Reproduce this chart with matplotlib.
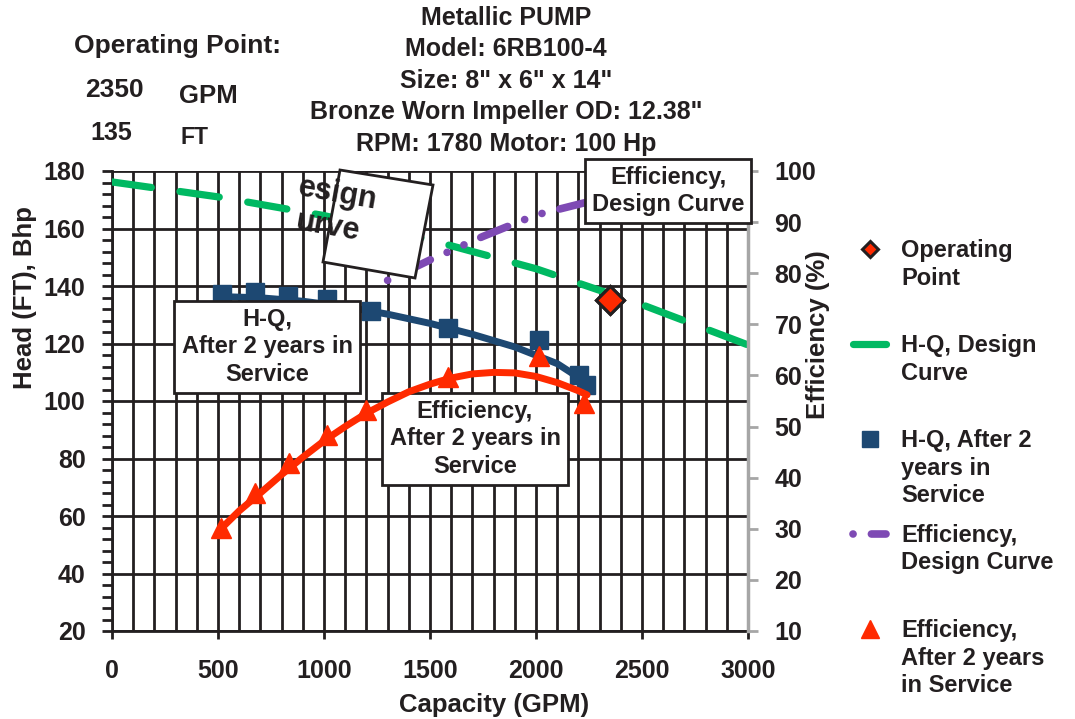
import numpy as np
import matplotlib
matplotlib.use("Agg")
import matplotlib.pyplot as plt
from matplotlib.patches import Polygon
from matplotlib.legend_handler import HandlerLine2D
from matplotlib.transforms import Affine2D

plt.rcParams['font.family'] = ['Liberation Sans', 'DejaVu Sans']
plt.rcParams['font.weight'] = 'bold'
plt.rcParams['axes.labelweight'] = 'bold'
TXT = '#231F20'

# ---------------- data ----------------
# H-Q design curve (Head, ft)
hq_design_q = [0, 500, 1000, 1500, 2000, 2500, 3000]
hq_design_h = [176.2, 171.0, 164.5, 156.0, 146.0, 133.5, 119.5]

# Efficiency design curve (%)
eff_design_q = [1300, 1500, 1750, 2000, 2250]
eff_design_e = [78.6, 82.6, 87.2, 91.4, 94.0]

# H-Q after 2 years in service (measured points, ft)
hq_2y_q = [519, 675, 830, 1014, 1222, 1585, 2014, 2203, 2236]
hq_2y_h = [137.2, 137.9, 136.5, 135.5, 131.3, 125.4, 121.2, 109.0, 105.6]
# trendline for H-Q after 2 years
hq_2y_fit_q = [519, 700, 900, 1100, 1300, 1500, 1700, 1900, 2100, 2236]
hq_2y_fit_h = [136.3, 135.9, 134.7, 132.8, 130.2, 127.0, 123.2, 118.8, 113.0, 106.5]

# Efficiency after 2 years in service (measured points, %)
eff_2y_q = [514, 675, 835, 1014, 1198, 1585, 2014, 2226]
eff_2y_e = [30.2, 37.0, 42.9, 48.4, 53.2, 59.7, 63.8, 54.6]
# trendline for efficiency after 2 years
eff_2y_fit_q = [514, 600, 700, 800, 900, 1000, 1100, 1200, 1300, 1400, 1500, 1600,
                1700, 1800, 1900, 2000, 2100, 2200, 2241]
eff_2y_fit_e = [30.0, 33.5, 37.0, 40.6, 44.0, 47.2, 50.0, 52.6, 54.8, 56.8, 58.3, 59.5,
                60.3, 60.6, 60.5, 59.8, 58.6, 57.0, 56.2]

# Operating point
op_q = [2350]
op_h = [135]

x_ticks = [0, 500, 1000, 1500, 2000, 2500, 3000]
y_left_ticks = [20, 40, 60, 80, 100, 120, 140, 160, 180]
y_right_ticks = [10, 20, 30, 40, 50, 60, 70, 80, 90, 100]

title_lines = ["Metallic PUMP", "Model: 6RB100-4", 'Size: 8" x 6" x 14"',
               'Bronze Worn Impeller OD: 12.38"', "RPM: 1780 Motor: 100 Hp"]

GREEN = '#00B962'
PURPLE = '#7E4AB4'
NAVY = '#1D4872'
RED = '#FF2A00'

# ---------------- figure ----------------
W, H = 1075, 719
fig = plt.figure(figsize=(W / 100, H / 100), dpi=100)
ax = fig.add_axes([112 / W, 1 - 631 / H, 636 / W, 460 / H])
ax2 = ax.twinx()

ax.set_xlim(0, 3000)
ax.set_ylim(20, 180)
ax2.set_ylim(10, 100)

# grid
ax.set_xticks(np.arange(0, 3001, 100), minor=True)
ax.set_xticks(x_ticks)
ax.set_yticks(y_left_ticks)
ax.set_yticks(np.arange(20, 181, 4), minor=True)
ax.grid(True, which='major', axis='y', color=TXT, lw=2.0)
ax.grid(True, which='minor', axis='x', color=TXT, lw=2.0)
ax.grid(True, which='major', axis='x', color=TXT, lw=2.0)
ax.set_axisbelow(True)

ax.tick_params(axis='x', which='major', direction='out', length=6, width=2, color=TXT,
               labelsize=18, pad=14, labelcolor=TXT)
ax.tick_params(axis='x', which='minor', length=0)
ax.tick_params(axis='y', which='both', direction='out', length=7, width=2, color=TXT,
               labelsize=18, pad=12, labelcolor=TXT)
for s in ['top', 'right']:
    ax.spines[s].set_visible(False)
ax.spines['left'].set_color(TXT)
ax.spines['left'].set_linewidth(2)
ax.spines['bottom'].set_color(TXT)
ax.spines['bottom'].set_linewidth(2)

ax2.set_yticks(y_right_ticks)
ax2.tick_params(axis='y', direction='out', length=7, width=2, color='#A6A6A6',
                labelsize=18, pad=12, labelcolor=TXT)
for s in ['top', 'left', 'bottom']:
    ax2.spines[s].set_visible(False)
ax2.spines['right'].set_color('#A6A6A6')
ax2.spines['right'].set_linewidth(2.5)

# ---------------- series ----------------
l_hq_design, = ax.plot(hq_design_q, hq_design_h, color=GREEN, lw=5.2,
                       dashes=(5.5, 4.0), dash_capstyle='round', zorder=3,
                       label="H-Q, Design\nCurve\n")
ax.plot(hq_2y_fit_q, hq_2y_fit_h, color=NAVY, lw=5, solid_capstyle='round', zorder=3)
l_hq_2y, = ax.plot(hq_2y_q, hq_2y_h, ls='none', marker='s', ms=13, color=NAVY, zorder=4,
                   label="H-Q, After 2\nyears in\nService")
l_op, = ax.plot(op_q, op_h, ls='none', marker='D', ms=14, mfc=RED, mec=TXT, mew=2.2,
                zorder=6, label="Operating\nPoint\n")

l_eff_design, = ax2.plot(eff_design_q, eff_design_e, color=PURPLE, lw=5.5,
                         dashes=(0.01, 2.4, 3.8, 2.4, 0.01, 2.4), dash_capstyle='round',
                         zorder=3, label="Efficiency,\nDesign Curve\n")
ax2.plot(eff_2y_fit_q, eff_2y_fit_e, color=RED, lw=5, solid_capstyle='round', zorder=3)
l_eff_2y, = ax2.plot(eff_2y_q, eff_2y_e, ls='none', marker='^', ms=14, color=RED, zorder=4,
                     label="Efficiency,\nAfter 2 years\nin Service")
# operating point drawn again on the top axes so it stays above the efficiency lines
ax2.plot(op_q, [10 + (op_h[0] - 20) * 90 / 160], ls='none', marker='D', ms=14, mfc=RED,
         mec=TXT, mew=2.2, zorder=6)

# ---------------- text boxes ----------------
bx = dict(boxstyle='square,pad=0.3', fc='white', ec=TXT, lw=2)
ax.text((267 - 112) / 636, (631 - 347) / 460, "H-Q,\nAfter 2 years in\nService",
        transform=ax.transAxes, ha='center', va='center', fontsize=17, color=TXT,
        linespacing=1.25, bbox=bx, zorder=5)
ax.text((475 - 112) / 636, (631 - 439) / 460, "Efficiency,\nAfter 2 years in\nService",
        transform=ax.transAxes, ha='center', va='center', fontsize=17, color=TXT,
        linespacing=1.25, bbox=bx, zorder=5)
ax2.text((668 - 112) / 636, (631 - 191) / 460, "Efficiency,\nDesign Curve",
         transform=ax2.transAxes, ha='center', va='center', fontsize=17, color=TXT,
         linespacing=1.25, bbox=bx, zorder=7, clip_on=False)

# broken rotated "Design Curve" label
corners_px = [(340, 170), (433, 185), (415, 278), (323, 262)]
poly = Polygon([((px - 112) / 636, (631 - py) / 460) for px, py in corners_px],
               closed=True, transform=ax2.transAxes, fc='white', ec=TXT, lw=2,
               zorder=7, clip_on=False)
ax2.add_patch(poly)
ax2.text((298 - 112) / 636, (631 - 187) / 460, "esign", transform=ax2.transAxes,
         rotation=-10, rotation_mode='anchor', ha='left', va='center', fontsize=22,
         color=TXT, zorder=8, clip_on=False)
ax2.text((296 - 112) / 636, (631 - 221) / 460, "urve", transform=ax2.transAxes,
         rotation=-10, rotation_mode='anchor', ha='left', va='center', fontsize=22,
         color=TXT, zorder=8, clip_on=False)

# ---------------- axis labels ----------------
ax.set_xlabel("Capacity (GPM)", fontsize=18.5, color=TXT, fontweight='bold')
ax.xaxis.set_label_coords((494 - 112) / 636, (631 - 705) / 460)
ax.set_ylabel("Head (FT), Bhp", fontsize=18.5, color=TXT, fontweight='bold')
ax.yaxis.set_label_coords((25 - 112) / 636, (631 - 298) / 460)
ax2.set_ylabel("Efficiency (%)", fontsize=18.5, color=TXT, fontweight='bold')
ax2.yaxis.set_label_coords((818 - 112) / 636, (631 - 335) / 460)
ax2.yaxis.label.set_va('center')
ax.yaxis.label.set_va('center')
ax.xaxis.label.set_va('center')

# ---------------- titles / operating point text ----------------
for i, line in enumerate(title_lines):
    fig.text(506 / W, 1 - (18 + i * 31.5) / H, line, ha='center', va='center',
             fontsize=18, color=TXT)
fig.text(177 / W, 1 - 46 / H, "Operating Point:", ha='center', va='center', fontsize=19, color=TXT)
fig.text(114 / W, 1 - 90 / H, "2350", ha='center', va='center', fontsize=19, color=TXT)
fig.text(208 / W, 1 - 96 / H, "GPM", ha='center', va='center', fontsize=18.5, color=TXT)
fig.text(111 / W, 1 - 133 / H, "135", ha='center', va='center', fontsize=18, color=TXT)
fig.text(195 / W, 1 - 138 / H, "FT", ha='center', va='center', fontsize=16.5, color=TXT)

# ---------------- legend ----------------
class UpHandler(HandlerLine2D):
    def __init__(self, dy, **kw):
        super().__init__(**kw)
        self.dy = dy

    def create_artists(self, legend, orig_handle, xdescent, ydescent, width, height,
                       fontsize, trans):
        arts = super().create_artists(legend, orig_handle, xdescent, ydescent, width,
                                      height, fontsize, trans)
        t = Affine2D().translate(0, self.dy) + trans
        for a in arts:
            a.set_transform(t)
        return arts

LFS = 17
LSP = 1.25
handles = [l_op, l_hq_design, l_hq_2y, l_eff_design, l_eff_2y]
hm = {h: UpHandler(dy=LFS * LSP, numpoints=1) for h in handles}
for h in [l_hq_design, l_eff_design]:
    hm[h] = UpHandler(dy=LFS * LSP, numpoints=2)
leg = fig.legend(handles=handles, labels=[h.get_label() for h in handles],
                 loc='upper left', bbox_to_anchor=(846 / W, 1 - 239 / H),
                 frameon=False, fontsize=LFS, handlelength=2.0, handletextpad=0.35,
                 labelspacing=0.72, borderpad=0, borderaxespad=0, handler_map=hm)
for t in leg.get_texts():
    t.set_color(TXT)
    t.set_linespacing(LSP)
leg.legend_handles[0].set_markersize(8)
leg.legend_handles[2].set_markersize(11)
leg.legend_handles[4].set_markersize(13)

fig.savefig("out.png", dpi=100)
